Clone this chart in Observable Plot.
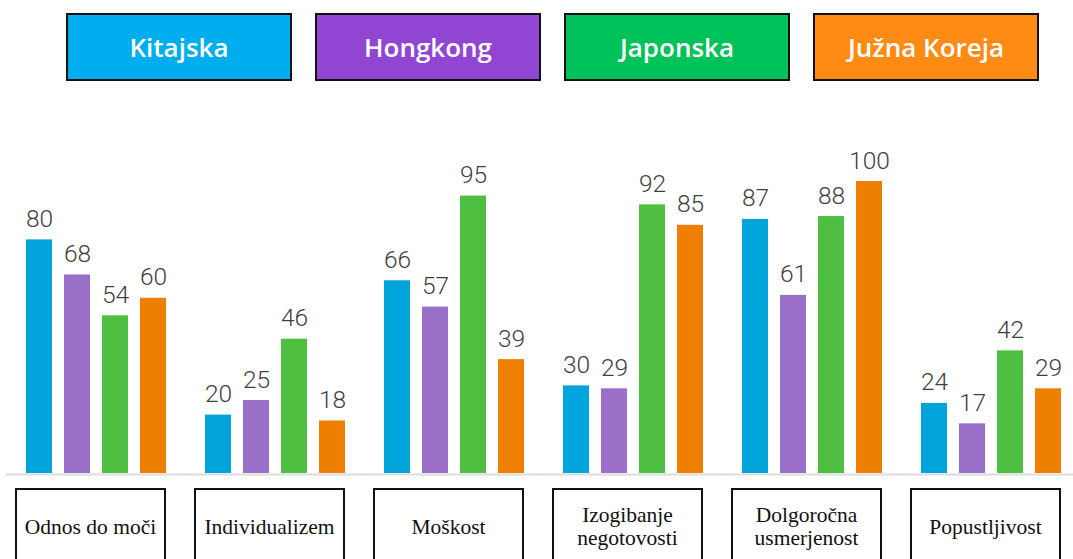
<!DOCTYPE html>
<html>
<head>
<meta charset="utf-8">
<script src="https://cdn.jsdelivr.net/npm/d3@7"></script>
<script src="https://cdn.jsdelivr.net/npm/@observablehq/plot@0.6"></script>
<style>
  html, body { margin: 0; padding: 0; background: #fff; width: 1073px; height: 559px; overflow: hidden; }
  #legend { position: relative; height: 100px; }
  .lg { position: absolute; top: 13px; width: 226px; height: 68px; box-sizing: border-box;
        border: 2px solid #111; display: flex; align-items: center; justify-content: center;
        color: #fff; font-family: "Open Sans", sans-serif; font-weight: 600; font-size: 26px; }
  #chart { position: relative; }
  .cat { position: absolute; box-sizing: border-box; border: 2px solid #111; background: #fff;
         display: flex; align-items: center; justify-content: center; text-align: center;
         font-family: "Liberation Serif", "Times New Roman", serif; font-size: 21.5px; line-height: 23px; color: #111; }
</style>
</head>
<body>
<div id="legend"></div>
<div id="chart"></div>
<script>
const categories = ["Odnos do moči", "Individualizem", "Moškost", "Izogibanje negotovosti", "Dolgoročna usmerjenost", "Popustljivost"];
const categoryLines = [["Odnos do moči"], ["Individualizem"], ["Moškost"], ["Izogibanje", "negotovosti"], ["Dolgoročna", "usmerjenost"], ["Popustljivost"]];
const series = ["Kitajska", "Hongkong", "Japonska", "Južna Koreja"];
const kitajska = [80, 20, 66, 30, 87, 24];
const hongkong = [68, 25, 57, 29, 61, 17];
const japonska = [54, 46, 95, 92, 88, 42];
const juznaKoreja = [60, 18, 39, 85, 100, 29];
const barColors = ["#00a3da", "#9a6fc7", "#4ebf40", "#ef7f00"];
const legendColors = ["#00aeef", "#9146d3", "#00c25a", "#ff8a14"];

const valuesBySeries = [kitajska, hongkong, japonska, juznaKoreja];
const data = [];
categories.forEach((c, i) => {
  series.forEach((s, j) => data.push({cat: c, series: s, value: valuesBySeries[j][i]}));
});

// Legend
const legend = document.getElementById("legend");
series.forEach((s, j) => {
  const d = document.createElement("div");
  d.className = "lg";
  d.style.left = (66 + j * 249) + "px";
  d.style.background = legendColors[j];
  d.textContent = s;
  legend.appendChild(d);
});

const plot = Plot.plot({
  width: 1073,
  height: 385,
  marginTop: 81,
  marginBottom: 12,
  marginLeft: 26,
  marginRight: 12,
  fx: {domain: categories, paddingInner: 0.218, paddingOuter: 0, axis: null},
  x: {domain: series, paddingInner: 0.316, paddingOuter: 0, axis: null},
  y: {domain: [0, 100], axis: null},
  color: {domain: series, range: barColors},
  style: {background: "transparent"},
  marks: [
    Plot.barY(data, {fx: "cat", x: "series", y: "value", fill: "series"}),
    Plot.ruleY([0], {stroke: "#dcdcdc", strokeWidth: 2, dy: 1, insetLeft: -20, insetRight: -20}),
    Plot.text(data, {fx: "cat", x: "series", y: "value", text: d => String(d.value),
      lineAnchor: "bottom", dy: -13, fontSize: 24.5, fontWeight: 300, fill: "#3f3f3f",
      fontFamily: "Roboto, sans-serif"})
  ]
});
const chart = document.getElementById("chart");
chart.appendChild(plot);

// Category boxes placed with the fx scale
const fxs = plot.scale("fx");
let fxApply = fxs.apply ? (v) => fxs.apply(v) : null;
if (!fxApply) {
  const b = d3.scaleBand(fxs.domain, fxs.range).paddingInner(fxs.paddingInner).paddingOuter(fxs.paddingOuter).align(fxs.align ?? 0.5);
  fxApply = (v) => b(v);
}
categories.forEach((c, i) => {
  const d = document.createElement("div");
  d.className = "cat";
  d.style.left = (fxApply(c) - 11) + "px";
  d.style.top = "388px";
  d.style.width = "151px";
  d.style.height = "78px";
  d.innerHTML = categoryLines[i].join("<br>");
  chart.appendChild(d);
});
</script>
</body>
</html>
